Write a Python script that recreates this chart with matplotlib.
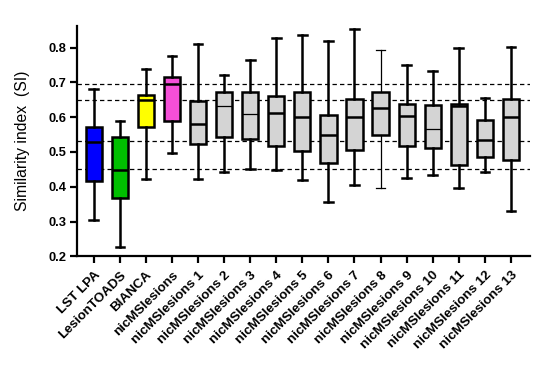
import matplotlib
matplotlib.use("Agg")
import matplotlib.pyplot as plt

labels = ["LST LPA", "LesionTOADS", "BIANCA", "nicMSlesions",
          "nicMSlesions 1", "nicMSlesions 2", "nicMSlesions 3", "nicMSlesions 4",
          "nicMSlesions 5", "nicMSlesions 6", "nicMSlesions 7", "nicMSlesions 8",
          "nicMSlesions 9", "nicMSlesions 10", "nicMSlesions 11", "nicMSlesions 12",
          "nicMSlesions 13"]
whisker_low = [0.304, 0.227, 0.422, 0.498, 0.422, 0.443, 0.451, 0.448, 0.419, 0.356,
               0.404, 0.396, 0.426, 0.435, 0.396, 0.442, 0.330]
q1 = [0.417, 0.367, 0.572, 0.590, 0.523, 0.544, 0.536, 0.517, 0.503, 0.467,
      0.506, 0.549, 0.517, 0.512, 0.463, 0.486, 0.476]
median = [0.529, 0.448, 0.650, 0.694, 0.581, 0.631, 0.608, 0.612, 0.599, 0.549,
          0.601, 0.625, 0.604, 0.565, 0.631, 0.535, 0.601]
q3 = [0.573, 0.544, 0.665, 0.714, 0.646, 0.671, 0.671, 0.662, 0.671, 0.606,
      0.653, 0.671, 0.638, 0.635, 0.638, 0.592, 0.652]
whisker_high = [0.681, 0.590, 0.739, 0.777, 0.809, 0.722, 0.765, 0.828, 0.837, 0.820,
                0.854, 0.792, 0.751, 0.733, 0.799, 0.656, 0.803]
ref_lines = [0.695, 0.649, 0.531, 0.450]

colors = ["#0000FF", "#00C000", "#FFFF00", "#F54FD8"] + ["#D4D4D4"] * 13
median_lw = [1.8, 1.8, 1.8, 1.8, 1.8, 0.9, 0.9, 1.8, 1.8, 1.8, 1.8, 1.8, 1.8, 0.9, 1.8, 1.8, 1.8]
whisker_lw = [1.8] * 11 + [0.9] + [1.8] * 5

plt.rcParams['font.family'] = ['Liberation Sans', 'DejaVu Sans']

fig = plt.figure(figsize=(5.43, 3.71), dpi=100)
ax = fig.add_axes([0.141, 0.309, 0.835, 0.621])

for y in ref_lines:
    ax.axhline(y, color='black', lw=0.9, ls=(0, (3.5, 2.5)), zorder=1)

for i in range(len(labels)):
    st = [{'whislo': whisker_low[i], 'q1': q1[i], 'med': median[i],
           'q3': q3[i], 'whishi': whisker_high[i], 'fliers': []}]
    ax.bxp(st, positions=[i], widths=0.62, patch_artist=True, showfliers=False,
           boxprops=dict(facecolor=colors[i], edgecolor='black', linewidth=1.8),
           medianprops=dict(color='black', linewidth=median_lw[i]),
           whiskerprops=dict(color='black', linewidth=whisker_lw[i]),
           capprops=dict(color='black', linewidth=whisker_lw[i]),
           capwidths=0.33, zorder=3)

ax.set_xlim(-0.66, 16.73)
ax.set_ylim(0.2, 0.862)
ax.set_yticks([0.2, 0.3, 0.4, 0.5, 0.6, 0.7, 0.8])
ax.set_yticklabels(["0.2", "0.3", "0.4", "0.5", "0.6", "0.7", "0.8"],
                   fontsize=9.3, fontweight='bold')
ax.set_xticks(range(len(labels)))
ax.set_xticklabels(labels, rotation=45, ha='right', rotation_mode='anchor',
                   fontsize=9.6, fontweight='bold')
ax.tick_params(axis='both', direction='out', length=5, width=1.6, pad=2)
ax.tick_params(axis='x', pad=4)
for s in ['top', 'right']:
    ax.spines[s].set_visible(False)
for s in ['left', 'bottom']:
    ax.spines[s].set_linewidth(1.6)
ax.set_ylabel("Similarity index  (SI)", fontsize=11.3)
ax.yaxis.set_label_coords(-0.103, 0.5)

fig.savefig("out.png", dpi=100)
